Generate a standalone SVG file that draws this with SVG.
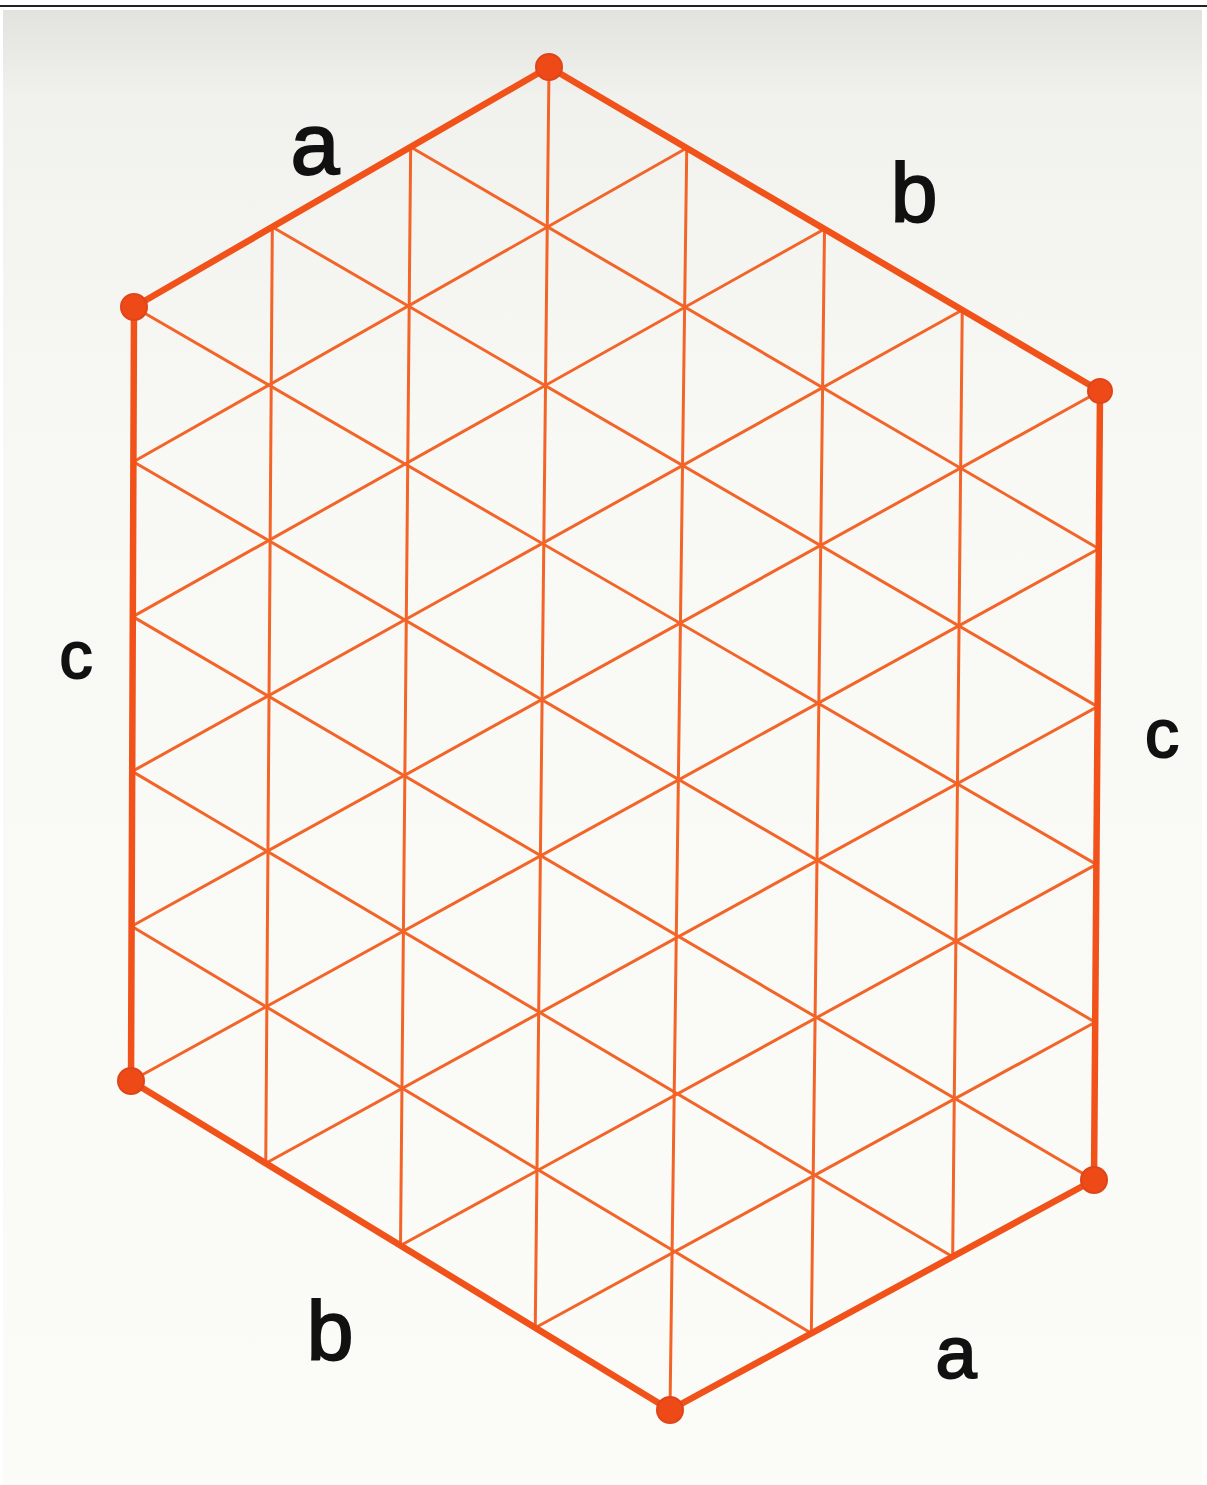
<svg xmlns="http://www.w3.org/2000/svg" width="1207" height="1485" viewBox="0 0 1207 1485">
<defs>
<linearGradient id="paper" x1="0" y1="0" x2="0" y2="1">
<stop offset="0" stop-color="#E2E3DE"/>
<stop offset="0.06" stop-color="#F1F2EE"/>
<stop offset="0.3" stop-color="#F8F8F5"/>
<stop offset="1" stop-color="#FBFBF8"/>
</linearGradient>
<style>
.grid line{stroke:#F26428;stroke-width:3;stroke-linecap:round;fill:none}
.edge{stroke:#F0521A;stroke-width:6.5;stroke-linejoin:round;fill:none}
.vtx{fill:#EE4A18;stroke:#E0451A;stroke-width:2}
.lbl{font-family:"Liberation Sans","DejaVu Sans",sans-serif;fill:#111;stroke:#111;stroke-width:2;text-anchor:middle}
</style>
</defs>
<rect x="0" y="0" width="1207" height="1485" fill="#FFFFFF"/>
<rect x="3" y="10" width="1199" height="1475" fill="url(#paper)"/>
<rect x="0" y="5" width="1207" height="2" fill="#222"/>

<g id="connectors" class="grid">
<!-- lines parallel to a (down-left) -->
<line x1="686.75" y1="148" x2="133.4" y2="461.8"/>
<line x1="824.5" y1="229" x2="132.8" y2="616.6"/>
<line x1="962.25" y1="310" x2="132.2" y2="771.4"/>
<line x1="1100" y1="391" x2="131.6" y2="926.2"/>
<line x1="1098.8" y1="548.8" x2="131" y2="1081"/>
<line x1="1097.6" y1="706.6" x2="265.75" y2="1163.25"/>
<line x1="1096.4" y1="864.4" x2="400.5" y2="1245.5"/>
<line x1="1095.2" y1="1022.2" x2="535.25" y2="1327.75"/>
<!-- lines parallel to b (down-right) -->
<line x1="410.67" y1="147" x2="1098.8" y2="548.8"/>
<line x1="272.33" y1="227" x2="1097.6" y2="706.6"/>
<line x1="134" y1="307" x2="1096.4" y2="864.4"/>
<line x1="133.4" y1="461.8" x2="1095.2" y2="1022.2"/>
<line x1="132.8" y1="616.6" x2="1094" y2="1180"/>
<line x1="132.2" y1="771.4" x2="952.67" y2="1256.67"/>
<line x1="131.6" y1="926.2" x2="811.33" y2="1333.33"/>
<!-- vertical lines -->
<line x1="272.33" y1="227" x2="265.75" y2="1163.25"/>
<line x1="410.67" y1="147" x2="400.5" y2="1245.5"/>
<line x1="549" y1="67" x2="535.25" y2="1327.75"/>
<line x1="686.75" y1="148" x2="670" y2="1410"/>
<line x1="824.5" y1="229" x2="811.33" y2="1333.33"/>
<line x1="962.25" y1="310" x2="952.67" y2="1256.67"/>
</g>

<g id="hexagon">
<polygon class="edge" points="549,67 1100,391 1094,1180 670,1410 131,1081 134,307"/>
</g>

<g id="vertex-top"><circle class="vtx" cx="549" cy="67" r="13"/></g>
<g id="vertex-upper-left"><circle class="vtx" cx="134" cy="307" r="13"/></g>
<g id="vertex-upper-right"><circle class="vtx" cx="1100" cy="391" r="12"/></g>
<g id="vertex-lower-left"><circle class="vtx" cx="131" cy="1081" r="13"/></g>
<g id="vertex-lower-right"><circle class="vtx" cx="1094" cy="1180" r="13"/></g>
<g id="vertex-bottom"><circle class="vtx" cx="670" cy="1410" r="13"/></g>

<g id="labels">
<text class="lbl" x="315" y="174" font-size="88">a</text>
<text class="lbl" x="914" y="222" font-size="84">b</text>
<text class="lbl" x="76" y="678" font-size="66">c</text>
<text class="lbl" x="1162" y="757" font-size="68">c</text>
<text class="lbl" x="330" y="1360" font-size="84">b</text>
<text class="lbl" x="956" y="1378" font-size="74">a</text>
</g>
</svg>
